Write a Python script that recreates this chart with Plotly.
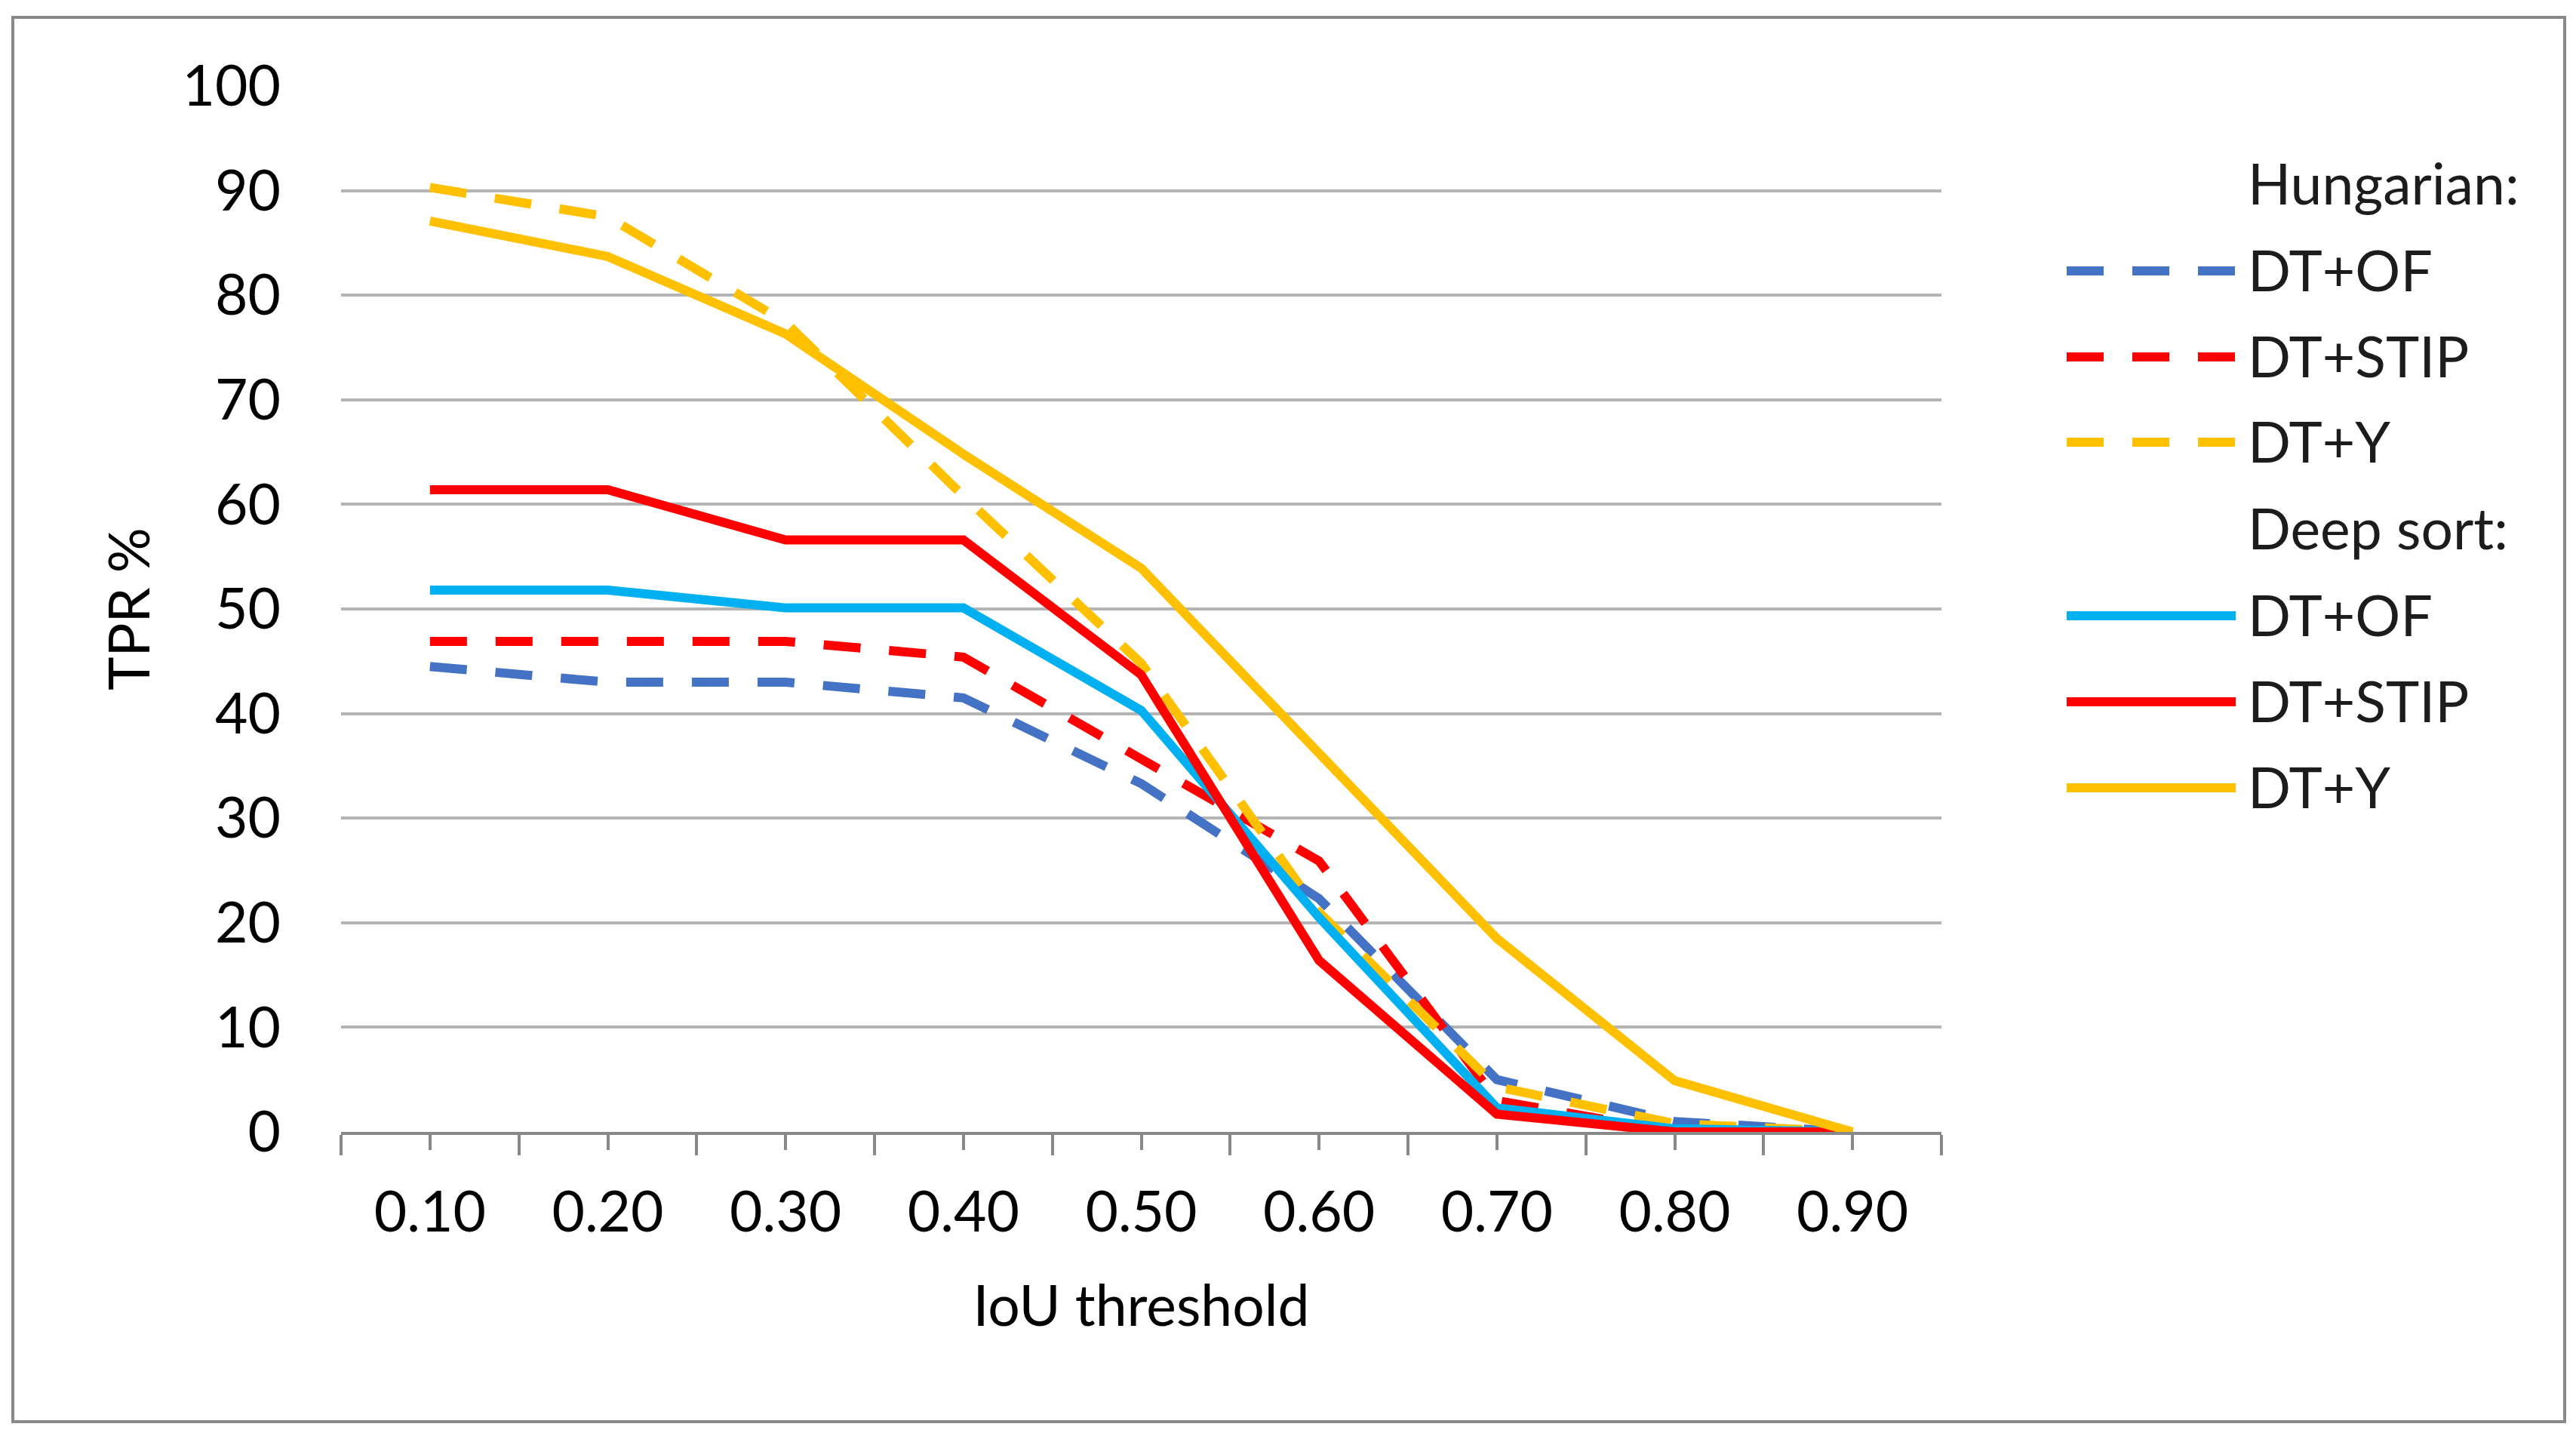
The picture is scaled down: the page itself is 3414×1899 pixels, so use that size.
import plotly.graph_objects as go

# ---- data ----
iou = [0.10, 0.20, 0.30, 0.40, 0.50, 0.60, 0.70, 0.80, 0.90]
iou_labels = ["0.10", "0.20", "0.30", "0.40", "0.50", "0.60", "0.70", "0.80", "0.90"]

hung_of = [44.5, 43.0, 43.0, 41.5, 33.3, 22.3, 5.0, 1.0, 0.0]
hung_stip = [46.9, 46.9, 46.9, 45.4, 35.6, 25.9, 3.0, 0.0, 0.0]
hung_y = [90.3, 87.5, 77.4, 60.8, 44.8, 21.0, 4.3, 0.8, 0.0]

deep_of = [51.8, 51.8, 50.1, 50.1, 40.3, 20.5, 2.3, 0.3, 0.0]
deep_stip = [61.4, 61.4, 56.6, 56.6, 43.7, 16.4, 1.7, 0.0, 0.0]
deep_y = [87.1, 83.7, 76.3, 64.8, 53.9, 36.2, 18.5, 4.9, 0.0]

series_names = ["DT+OF", "DT+STIP", "DT+Y"]
group_titles = ["Hungarian:", "Deep sort:"]

# ---- styling ----
W, H = 3414, 1899
L, R, T, B = 452, 3414 - 2573, 114, 1899 - 1500
PW, PH = W - L - R, H - T - B
FONT = "Lato"
FS = 75
BLUE, RED, GOLD, CYAN = "#4472C4", "#FF0000", "#FFC000", "#00B0F0"
DASH = "49px,38px"
LW = 12
AXIS_GREY = "#898989"
GRID_GREY = "#B4B4B4"

def px_x(x):
    return (x - L) / PW

def px_y(y):
    return (H - B - y) / PH

fig = go.Figure()

hung = [(hung_of, BLUE), (hung_stip, RED), (hung_y, GOLD)]
deep = [(deep_of, CYAN), (deep_stip, RED), (deep_y, GOLD)]

for (vals, col), name in zip(hung, series_names):
    fig.add_trace(go.Scatter(x=iou, y=vals, mode="lines", name="Hungarian " + name,
                             line=dict(color=col, width=LW, dash=DASH),
                             showlegend=False))
for (vals, col), name in zip(deep, series_names):
    fig.add_trace(go.Scatter(x=iou, y=vals, mode="lines", name="Deep sort " + name,
                             line=dict(color=col, width=LW),
                             showlegend=False))

xrange_ = [0.0499999, 0.9500001]

fig.update_layout(
    width=W, height=H,
    margin=dict(l=L, r=R, t=T, b=B, pad=0),
    paper_bgcolor="white", plot_bgcolor="white",
    font=dict(family=FONT, size=FS, color="#000000"),
    showlegend=False,
    xaxis=dict(
        range=xrange_, tickmode="array", tickvals=iou, ticktext=iou_labels,
        ticks="outside", ticklen=20, tickwidth=4, tickcolor=AXIS_GREY,
        minor=dict(tickmode="linear", tick0=0.05, dtick=0.1, ticks="outside",
                   ticklen=27, tickwidth=4, tickcolor=AXIS_GREY, showgrid=False),
        showline=True, linecolor=AXIS_GREY, linewidth=4,
        showgrid=False, zeroline=False,
        tickfont=dict(family=FONT, size=FS, color="#000000"),
        ticklabelstandoff=18,
        title=dict(text="IoU threshold", font=dict(family=FONT, size=FS, color="#000000"),
                   standoff=58),
    ),
    xaxis2=dict(
        range=xrange_, overlaying="x", anchor="y", side="bottom",
        tickmode="array", tickvals=iou, ticks="inside", ticklen=20, tickwidth=4,
        tickcolor=AXIS_GREY, showticklabels=False,
        minor=dict(tickmode="linear", tick0=0.05, dtick=0.1, ticks="inside",
                   ticklen=26, tickwidth=4, tickcolor=AXIS_GREY, showgrid=False),
        showline=False, showgrid=False, zeroline=False,
    ),
    yaxis=dict(
        range=[0, 100], dtick=10, tick0=0,
        showgrid=True, gridcolor=GRID_GREY, gridwidth=4,
        showline=False, zeroline=False, ticks="",
        tickfont=dict(family=FONT, size=FS, color="#000000"),
        ticklabelstandoff=79,
        title=dict(text="TPR %", font=dict(family=FONT, size=FS, color="#000000"),
                   standoff=18),
    ),
)

# ---- outer chart border ----
fig.add_shape(type="rect", xref="paper", yref="paper",
              x0=px_x(17), x1=px_x(3399), y0=px_y(1884), y1=px_y(23),
              line=dict(color=AXIS_GREY, width=4), fillcolor="rgba(0,0,0,0)", layer="below")

# ---- custom legend (long line samples like the original) ----
leg_x0, leg_x1, leg_tx = 2739, 2963, 2977
rows_y = [244, 359, 473, 586, 701, 816, 930, 1044]
entries = [(group_titles[0], None, None)]
entries += [(n, c, DASH) for (v, c), n in zip(hung, series_names)]
entries += [(group_titles[1], None, None)]
entries += [(n, c, "solid") for (v, c), n in zip(deep, series_names)]

for (label, col, dash), ry in zip(entries, rows_y):
    if col is not None:
        fig.add_shape(type="line", xref="paper", yref="paper",
                      x0=px_x(leg_x0), x1=px_x(leg_x1), y0=px_y(ry), y1=px_y(ry),
                      line=dict(color=col, width=LW, dash=dash))
    fig.add_annotation(xref="paper", yref="paper", x=px_x(leg_tx), y=px_y(ry - 2),
                       text=label, showarrow=False, xanchor="left", yanchor="middle",
                       font=dict(family=FONT, size=FS, color="#1C1C1C"))

fig.write_html("out.html", config={"displayModeBar": False},
               post_script="document.body.style.margin='0';document.body.style.overflow='hidden';")
